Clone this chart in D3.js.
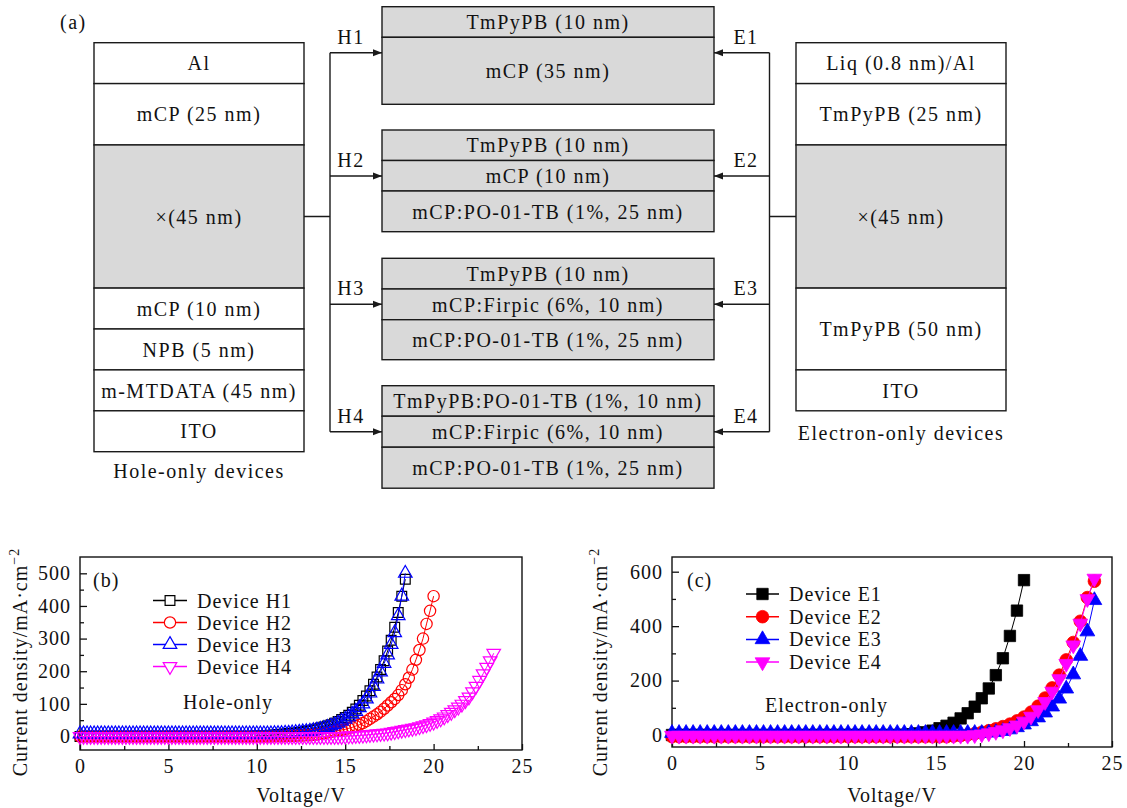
<!DOCTYPE html>
<html lang="en">
<head>
<meta charset="UTF-8">
<title>Hole-only and electron-only devices</title>
<style>
  body { margin: 0; background: #fff; }
  svg text { font-family: "Liberation Serif", "Times New Roman", serif; fill: #111; }
  .diag text { font-size: 20px; letter-spacing: 1.5px; }
  .chart text { font-size: 20px; letter-spacing: 1px; }
</style>
</head>
<body>
<script src="https://d3js.org/d3.v7.min.js"></script>
<script>
const width = 1127, height = 808;

// ---------- device structures ----------
const holeStack = ['Al', 'mCP (25 nm)', '\u00d7(45 nm)', 'mCP (10 nm)', 'NPB (5 nm)', 'm-MTDATA (45 nm)', 'ITO'];
const electronStack = ['Liq (0.8 nm)/Al', 'TmPyPB (25 nm)', '\u00d7(45 nm)', 'TmPyPB (50 nm)', 'ITO'];
const emlStacks = [
  ['TmPyPB (10 nm)', 'mCP (35 nm)'],
  ['TmPyPB (10 nm)', 'mCP (10 nm)', 'mCP:PO-01-TB (1%, 25 nm)'],
  ['TmPyPB (10 nm)', 'mCP:Firpic (6%, 10 nm)', 'mCP:PO-01-TB (1%, 25 nm)'],
  ['TmPyPB:PO-01-TB (1%, 10 nm)', 'mCP:Firpic (6%, 10 nm)', 'mCP:PO-01-TB (1%, 25 nm)']
];
const holeIds = ['H1', 'H2', 'H3', 'H4'];
const electronIds = ['E1', 'E2', 'E3', 'E4'];

// ---------- J-V data (mA/cm2), one value per voltage step ----------
const xTicks = [0, 5, 10, 15, 20, 25];
const holeStep = 0.2;   // V
const h1 = [
  0,0,0,0,0, 0,0,0,0,0, 0,0,0,0,0, 0,0,0,0,0, 0,0,0,0,0,
  0,0,0,0,0, 0,0,0,0,0, 0,0,0,0,0, 0,0,0,0,0, 0,0,0,0,0,
  2,2,3,3,4, 5,6,7,8,9, 10,11,12,14,16, 18,20,23,26,29, 32,36,41,46,52,
  58,65,74,84,96, 110,124,140,160,182, 205,232,262,295,335, 380,430,482
];
const h2 = [
  0,0,0,0,0, 0,0,0,0,0, 0,0,0,0,0, 0,0,0,0,0, 0,0,0,0,0,
  0,0,0,0,0, 0,0,0,0,0, 0,0,0,0,0, 0,0,0,0,0, 0,0,0,0,0,
  0,0,0,0,0, 1,1,1,1,2, 2,2,3,3,4, 4,5,6,8,10, 12,14,16,18,20,
  22,25,28,32,36, 41,47,54,61,68, 76,85,95,105,115, 127,142,160,180,205, 235,265,300,345,385,
  430
];
const h3 = [
  8,8,8,8,8, 8,8,8,8,8, 8,8,8,8,8, 8,8,8,8,8, 8,8,8,8,8,
  8,8,8,8,8, 8,8,8,8,8, 8,8,8,8,8, 8,8,8,8,8, 8,8,8,8,8,
  8,8,8,8,8, 9,9,9,10,10, 11,12,13,14,15, 16,18,20,22,25, 28,32,36,41,47,
  53,60,68,77,88, 100,115,133,153,176, 198,224,250,282,318, 370,430,500
];
const h4 = [
  0,0,0,0,0, 0,0,0,0,0, 0,0,0,0,0, 0,0,0,0,0, 0,0,0,0,0,
  0,0,0,0,0, 0,0,0,0,0, 0,0,0,0,0, 0,0,0,0,0, 0,0,0,0,0,
  0,0,0,0,0, 0,0,0,0,0, 0,0,0,0,0, 0,0,0,0,0, 0,0,0,0,0,
  1,2,2,3,3, 4,5,6,7,8, 9,10,11,13,15, 17,19,21,23,25, 27,30,33,36,40,
  44,49,54,60,67, 74,82,90,99,110, 121,137,154,172,192, 212,232,255
];
const holeYTicks = [0, 100, 200, 300, 400, 500];

const electronStep = 0.4;   // V
const e1 = [
  0,0,0,0,0,0,0,0,0,0,
  0,0,0,0,0,0,0,0,0,0,
  0,0,0,0,0,0,0,0,0,0,
  0,0,0,1,3,6,10,16,25,34,
  45,61,80,104,135,171,220,282,364,457,
  569
];
const e2 = [
  -6,-6,-6,-6,-6,-6,-6,-6,-6,-6,
  -6,-6,-6,-6,-6,-6,-6,-6,-6,-6,
  -6,-6,-6,-6,-6,-6,-6,-6,-6,-6,
  -6,-6,-6,-6,-6,-6,-6,-6,-6,-6,
  -4,-2,1,5,10,16,23,31,40,52,
  66,84,106,136,173,220,276,340,418,505,
  565
];
const e3 = [
  7,7,7,7,7,7,7,7,7,7,
  7,7,7,7,7,7,7,7,7,7,
  7,7,7,7,7,7,7,7,7,7,
  7,7,7,7,7,7,7,7,7,7,
  7,7,7,7,7,8,10,14,20,28,
  38,50,64,82,104,133,170,222,290,380,
  495
];
const e4 = [
  -2,-2,-2,-2,-2,-2,-2,-2,-2,-2,
  -2,-2,-2,-2,-2,-2,-2,-2,-2,-2,
  -2,-2,-2,-2,-2,-2,-2,-2,-2,-2,
  -2,-2,-2,-2,-2,-2,-2,-2,-2,-2,
  -2,-2,-2,0,3,7,12,18,26,36,
  50,68,92,122,160,206,262,330,410,500,
  575
];
const electronYTicks = [0, 200, 400, 600];

const holeSeries = [
  { name: 'Device H1', values: h1, color: '#000000', symbol: d3.symbolSquare, size: 95, rot: 0 },
  { name: 'Device H2', values: h2, color: '#ff0000', symbol: d3.symbolCircle, size: 100, rot: 0 },
  { name: 'Device H3', values: h3, color: '#0000ff', symbol: d3.symbolTriangle, size: 80, rot: 0 },
  { name: 'Device H4', values: h4, color: '#ff00ff', symbol: d3.symbolTriangle, size: 80, rot: 180 }
];
const electronSeries = [
  { name: 'Device E1', values: e1, color: '#000000', symbol: d3.symbolSquare, size: 130, rot: 0 },
  { name: 'Device E2', values: e2, color: '#ff0000', symbol: d3.symbolCircle, size: 125, rot: 0 },
  { name: 'Device E3', values: e3, color: '#0000ff', symbol: d3.symbolTriangle, size: 95, rot: 0 },
  { name: 'Device E4', values: e4, color: '#ff00ff', symbol: d3.symbolTriangle, size: 95, rot: 180 }
];

const svg = d3.select('body').append('svg')
  .attr('width', width)
  .attr('height', height);

// ================= (a) structure diagram =================
const diag = svg.append('g').attr('class', 'diag');
const grey = '#d9d9d9', ink = '#1a1a1a';

svg.append('defs').append('marker')
  .attr('id', 'arrow')
  .attr('markerUnits', 'userSpaceOnUse')
  .attr('markerWidth', 10).attr('markerHeight', 8)
  .attr('refX', 9).attr('refY', 4)
  .attr('orient', 'auto')
  .append('path')
  .attr('d', 'M0,0.5 L9,4 L0,7.5 Z')
  .attr('fill', ink);

diag.append('text').attr('x', 60).attr('y', 29).text('(a)');

function drawStack(labels, heights, x0, x1, top, greyRows) {
  let yy = top;
  labels.forEach((lab, i) => {
    const h = heights[i];
    diag.append('rect')
      .attr('x', x0).attr('y', yy)
      .attr('width', x1 - x0).attr('height', h)
      .attr('fill', greyRows.includes(i) ? grey : '#fff')
      .attr('stroke', ink).attr('stroke-width', 1.4);
    diag.append('text')
      .attr('x', (x0 + x1) / 2).attr('y', yy + h / 2)
      .attr('dy', '0.36em')
      .attr('text-anchor', 'middle')
      .text(lab);
    yy += h;
  });
}

const unit = 40.9;
drawStack(holeStack, [1, 1.5, 3.5, 1, 1, 1, 1].map(u => u * unit), 94, 304, 42.7, [2]);
drawStack(electronStack, [1, 1.5, 3.5, 2, 1].map(u => u * unit), 796, 1006, 42.7, [2]);

const boxTops = [6.7, 130, 258.3, 385.7];
const boxRows = [[30.6, 67], [30.5, 30.5, 40.7], [30.7, 30.7, 40], [30.5, 31, 41]];
emlStacks.forEach((st, i) => drawStack(st, boxRows[i], 382, 714, boxTops[i], st.map((d, k) => k)));

diag.append('text').attr('x', 199).attr('y', 478).attr('text-anchor', 'middle').text('Hole-only devices');
diag.append('text').attr('x', 901).attr('y', 440).attr('text-anchor', 'middle').text('Electron-only devices');

const arrowY = boxTops.map(t => t + 46);
const midY = 42.7 + 4.25 * unit;
const lineAttrs = sel => sel.attr('fill', 'none').attr('stroke', ink).attr('stroke-width', 1.4);

diag.append('path').attr('d', `M304,${midY}H330M330,${arrowY[0]}V${arrowY[3]}`).call(lineAttrs);
diag.append('path').attr('d', `M796,${midY}H769.5M769.5,${arrowY[0]}V${arrowY[3]}`).call(lineAttrs);

arrowY.forEach((ya, i) => {
  diag.append('path').attr('d', `M330,${ya}H382`).call(lineAttrs).attr('marker-end', 'url(#arrow)');
  diag.append('path').attr('d', `M769.5,${ya}H714`).call(lineAttrs).attr('marker-end', 'url(#arrow)');
  diag.append('text').attr('x', 351).attr('y', ya - 9).attr('text-anchor', 'middle').text(holeIds[i]);
  diag.append('text').attr('x', 746).attr('y', ya - 9).attr('text-anchor', 'middle').text(electronIds[i]);
});

// ================= (b), (c) J-V charts =================
function ivChart(cfg) {
  const g = svg.append('g').attr('class', 'chart');
  const x = d3.scaleLinear().domain([0, 25]).range([cfg.left, cfg.right]);
  const y = d3.scaleLinear().domain(cfg.yDomain).range([cfg.bottom, cfg.top]);

  // minor ticks halfway between the labelled ones
  const xMinor = xTicks.slice(0, -1).map((d, i) => (d + xTicks[i + 1]) / 2);
  const yMinor = cfg.yTicks.slice(0, -1).map((d, i) => (d + cfg.yTicks[i + 1]) / 2);

  const styleAxis = sel => {
    sel.attr('font-size', null).attr('font-family', null);
    sel.select('.domain').remove();
    sel.selectAll('line').attr('stroke', '#111').attr('stroke-width', 1.3);
  };

  g.append('g').attr('transform', `translate(0,${cfg.bottom})`)
    .call(d3.axisBottom(x).tickValues(xTicks).tickSizeInner(-6).tickSizeOuter(0).tickPadding(9))
    .call(styleAxis);
  g.append('g').attr('transform', `translate(0,${cfg.bottom})`)
    .call(d3.axisBottom(x).tickValues(xMinor).tickSizeInner(-4).tickSizeOuter(0).tickFormat(''))
    .call(styleAxis);
  g.append('g').attr('transform', `translate(${cfg.left},0)`)
    .call(d3.axisLeft(y).tickValues(cfg.yTicks).tickSizeInner(-7).tickSizeOuter(0).tickPadding(9))
    .call(styleAxis);
  g.append('g').attr('transform', `translate(${cfg.left},0)`)
    .call(d3.axisLeft(y).tickValues(yMinor).tickSizeInner(-4).tickSizeOuter(0).tickFormat(''))
    .call(styleAxis);

  g.append('rect')
    .attr('x', cfg.left).attr('y', cfg.top)
    .attr('width', cfg.right - cfg.left).attr('height', cfg.bottom - cfg.top)
    .attr('fill', 'none').attr('stroke', '#111').attr('stroke-width', 1.4);

  const line = d3.line().x(d => x(d.v)).y(d => y(d.j));

  cfg.series.forEach(s => {
    const pts = s.values.map((j, i) => ({ v: i * cfg.step, j }));
    g.append('path').datum(pts)
      .attr('fill', 'none').attr('stroke', s.color).attr('stroke-width', 1)
      .attr('d', line);
    const sym = d3.symbol().type(s.symbol).size(s.size);
    g.append('g').selectAll('path')
      .data(pts)
      .join('path')
      .attr('d', sym)
      .attr('transform', d => `translate(${x(d.v)},${y(d.j)}) rotate(${s.rot})`)
      .attr('fill', cfg.filled ? s.color : 'none')
      .attr('stroke', s.color)
      .attr('stroke-width', cfg.filled ? 0.8 : 1.2);
  });

  // legend
  const lg = g.append('g');
  cfg.series.forEach((s, i) => {
    const ly = cfg.legend.y + i * cfg.legend.dy;
    lg.append('line')
      .attr('x1', cfg.legend.x0).attr('x2', cfg.legend.x1)
      .attr('y1', ly).attr('y2', ly)
      .attr('stroke', s.color).attr('stroke-width', 1.5);
    lg.append('path')
      .attr('d', d3.symbol().type(s.symbol).size(s.size)())
      .attr('transform', `translate(${(cfg.legend.x0 + cfg.legend.x1) / 2},${ly}) rotate(${s.rot})`)
      .attr('fill', cfg.filled ? s.color : '#fff')
      .attr('stroke', s.color).attr('stroke-width', cfg.filled ? 0.8 : 1.2);
    lg.append('text')
      .attr('x', cfg.legend.tx).attr('y', ly).attr('dy', '0.35em')
      .text(s.name);
  });

  g.append('text').attr('x', cfg.panel.x).attr('y', cfg.panel.y).text(cfg.panel.label);
  g.append('text').attr('x', cfg.note.x).attr('y', cfg.note.y).text(cfg.note.label);

  g.append('text')
    .attr('x', (cfg.left + cfg.right) / 2).attr('y', 802)
    .attr('text-anchor', 'middle')
    .text('Voltage/V');

  const yt = g.append('text')
    .attr('transform', `translate(${cfg.left - cfg.titleGap},662) rotate(-90)`)
    .attr('text-anchor', 'middle');
  yt.append('tspan').text('Current density/mA\u00b7cm');
  yt.append('tspan').attr('dy', -8).style('font-size', '14px').text('\u22122');
}

ivChart({
  left: 80, right: 522, top: 557, bottom: 750,
  yDomain: [-41.4, 550], yTicks: holeYTicks, step: holeStep,
  series: holeSeries, filled: false,
  legend: { x0: 153, x1: 187, tx: 197, y: 600.5, dy: 22 },
  panel: { x: 93, y: 587, label: '(b)' },
  note: { x: 183, y: 709, label: 'Hole-only' },
  titleGap: 53
});

ivChart({
  left: 672, right: 1112, top: 557, bottom: 747,
  yDomain: [-44, 654], yTicks: electronYTicks, step: electronStep,
  series: electronSeries, filled: true,
  legend: { x0: 746, x1: 779, tx: 789, y: 594, dy: 22.7 },
  panel: { x: 687, y: 587, label: '(c)' },
  note: { x: 765, y: 712, label: 'Electron-only' },
  titleGap: 65
});
</script>
</body>
</html>
